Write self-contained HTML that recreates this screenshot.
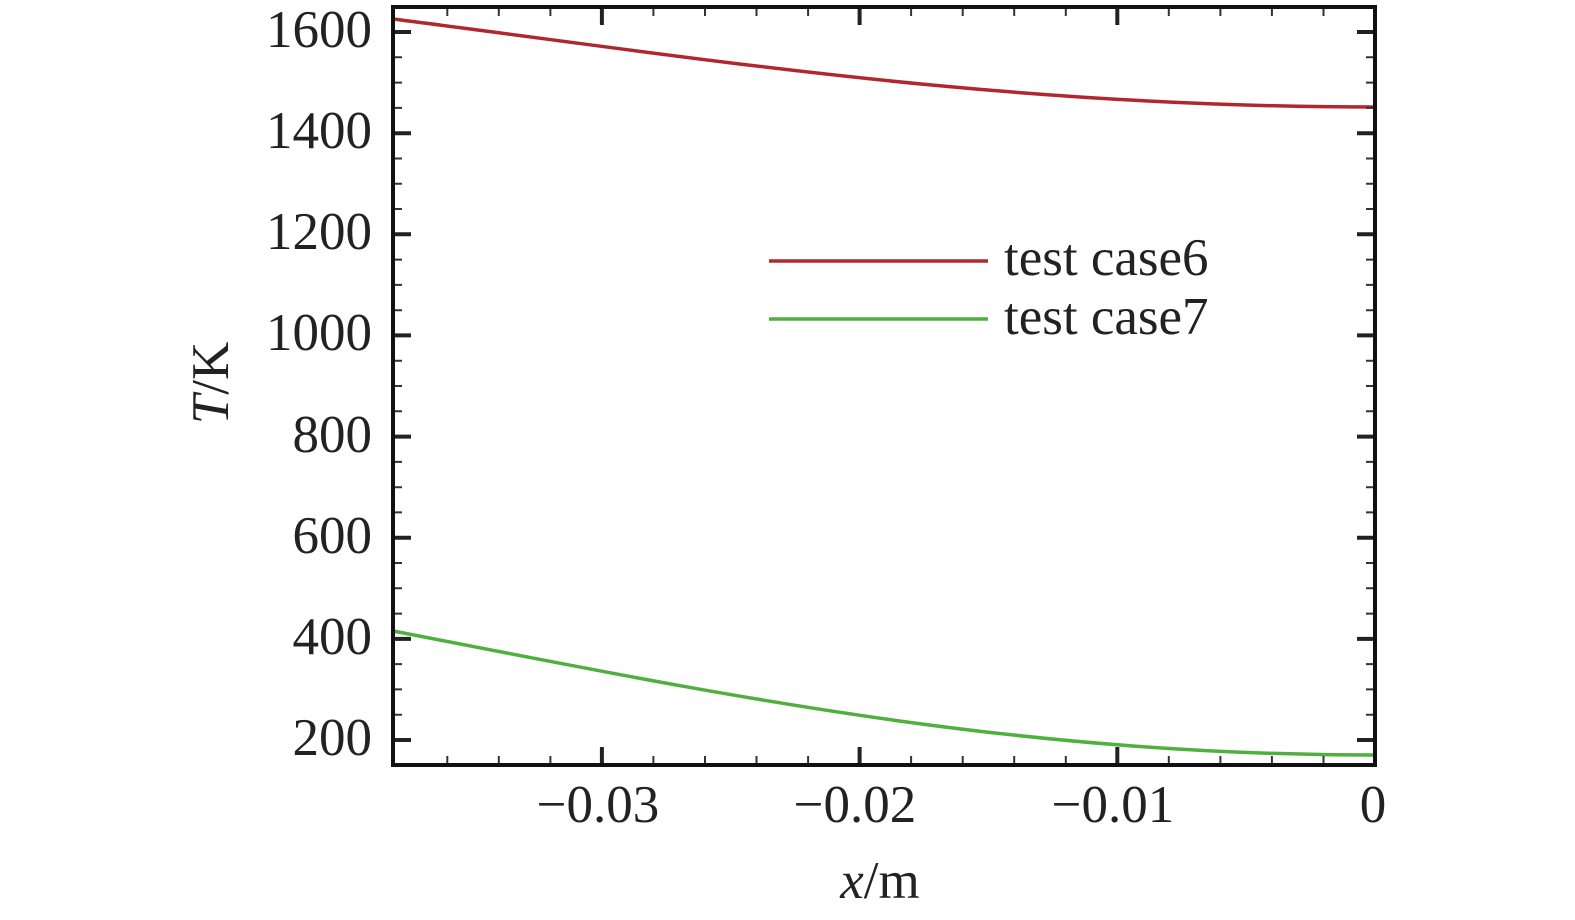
<!DOCTYPE html>
<html><head><meta charset="utf-8"><style>html,body{margin:0;padding:0;background:#fff}svg{display:block}</style></head>
<body>
<svg width="1575" height="920" viewBox="0 0 1575 920" xmlns="http://www.w3.org/2000/svg" font-family="Liberation Serif, serif" fill="#222">
<path d="M393,19 C700,58 1000,107 1375,107" fill="none" stroke="#b0282e" stroke-width="3.5"/>
<path d="M393,631 C700,690 1000,755 1375,755" fill="none" stroke="#4fb040" stroke-width="3.5"/>
<g stroke="#222" stroke-width="4" fill="none">
<path d="M393,740h18M393,638.9h18M393,537.7h18M393,436.6h18M393,335.4h18M393,234.3h18M393,133.2h18M393,32h18
M1375,740h-18M1375,638.9h-18M1375,537.7h-18M1375,436.6h-18M1375,335.4h-18M1375,234.3h-18M1375,133.2h-18M1375,32h-18
M601.9,765v-18M859.6,765v-18M1117.3,765v-18M601.9,7v18M859.6,7v18M1117.3,7v18"/>
</g>
<g stroke="#333" stroke-width="2" fill="none">
<path d="M393,714.7h9M393,689.4h9M393,664.1h9M393,613.6h9M393,588.3h9M393,563h9M393,512.4h9M393,487.2h9M393,461.9h9M393,411.3h9M393,386h9M393,360.7h9M393,310.2h9M393,284.9h9M393,259.6h9M393,209h9M393,183.7h9M393,158.5h9M393,107.9h9M393,82.6h9M393,57.3h9
M1375,714.7h-9M1375,689.4h-9M1375,664.1h-9M1375,613.6h-9M1375,588.3h-9M1375,563h-9M1375,512.4h-9M1375,487.2h-9M1375,461.9h-9M1375,411.3h-9M1375,386h-9M1375,360.7h-9M1375,310.2h-9M1375,284.9h-9M1375,259.6h-9M1375,209h-9M1375,183.7h-9M1375,158.5h-9M1375,107.9h-9M1375,82.6h-9M1375,57.3h-9
M447.3,765v-9M498.8,765v-9M550.4,765v-9M653.4,765v-9M705,765v-9M756.5,765v-9M808.1,765v-9M911.1,765v-9M962.7,765v-9M1014.2,765v-9M1065.8,765v-9M1168.8,765v-9M1220.4,765v-9M1271.9,765v-9M1323.5,765v-9
M447.3,7v9M498.8,7v9M550.4,7v9M653.4,7v9M705,7v9M756.5,7v9M808.1,7v9M911.1,7v9M962.7,7v9M1014.2,7v9M1065.8,7v9M1168.8,7v9M1220.4,7v9M1271.9,7v9M1323.5,7v9"/>
</g>
<rect x="393" y="7" width="982" height="758" fill="none" stroke="#111" stroke-width="4"/>
<line x1="769" y1="261" x2="988" y2="261" stroke="#b0282e" stroke-width="3.5"/>
<line x1="769" y1="319" x2="988" y2="319" stroke="#4fb040" stroke-width="3.5"/>
<g font-size="53">
<text x="1004" y="275">test case6</text>
<text x="1004" y="334">test case7</text>
</g>
<g font-size="53" text-anchor="end">
<text x="372" y="47">1600</text>
<text x="372" y="148">1400</text>
<text x="372" y="249">1200</text>
<text x="372" y="350">1000</text>
<text x="372" y="452">800</text>
<text x="372" y="553">600</text>
<text x="372" y="654">400</text>
<text x="372" y="755">200</text>
</g>
<g font-size="53" text-anchor="middle">
<text x="598" y="822">−0.03</text>
<text x="855" y="822">−0.02</text>
<text x="1113" y="822">−0.01</text>
<text x="1373" y="822">0</text>
<text x="880" y="898"><tspan font-style="italic">x</tspan>/m</text>
<text transform="translate(228,383) rotate(-90)"><tspan font-style="italic">T</tspan>/K</text>
</g>
</svg>
</body></html>
